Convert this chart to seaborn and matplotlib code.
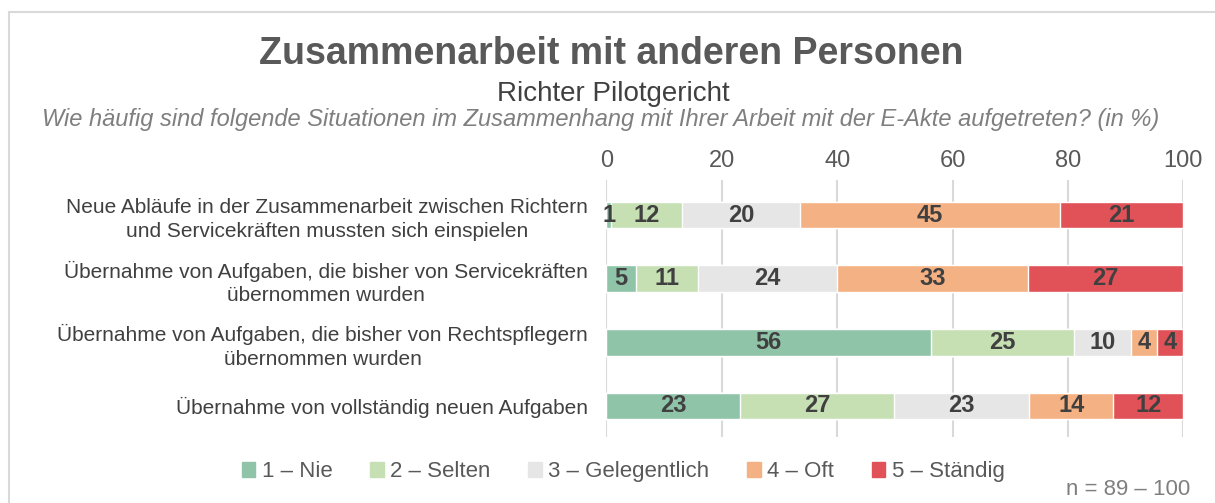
import matplotlib.pyplot as plt
import seaborn as sns
import numpy as np
import pandas as pd
from matplotlib.lines import Line2D

# Data (share in %)
questions = [
    "Neue Abläufe in der Zusammenarbeit zwischen Richtern\nund Servicekräften mussten sich einspielen",
    "Übernahme von Aufgaben, die bisher von Servicekräften\nübernommen wurden",
    "Übernahme von Aufgaben, die bisher von Rechtspflegern\nübernommen wurden",
    "Übernahme von vollständig neuen Aufgaben",
]
levels = ["1 – Nie", "2 – Selten", "3 – Gelegentlich", "4 – Oft", "5 – Ständig"]
nie = [0.8, 5.2, 56.2, 23.2]
selten = [12.4, 10.7, 24.8, 26.7]
gelegentlich = [20.4, 24.1, 9.9, 23.4]
oft = [45.0, 33.0, 4.6, 14.5]
staendig = [21.4, 27.0, 4.5, 12.2]
labels_shown = [[1, 12, 20, 45, 21], [5, 11, 24, 33, 27], [56, 25, 10, 4, 4], [23, 27, 23, 14, 12]]
colors = ["#8FC4A8", "#C6E0B4", "#E7E6E6", "#F4B183", "#E05258"]

df = pd.DataFrame({"Frage": questions, levels[0]: nie, levels[1]: selten,
                   levels[2]: gelegentlich, levels[3]: oft, levels[4]: staendig})

sns.set_style("white")
plt.rcParams["font.family"] = ["Liberation Sans", "DejaVu Sans"]

fig = plt.figure(figsize=(12.15, 5.03), dpi=100)
ax = fig.add_axes([0.499, 0.131, 0.475, 0.511])

# stacked bars: draw cumulative sums, last level first (behind)
cum = df[levels].cumsum(axis=1)
for i in reversed(range(len(levels))):
    sns.barplot(x=cum[levels[i]].values, y=df["Frage"], color=colors[i], orient="h",
                width=0.42, saturation=1, ax=ax, zorder=3)

left = np.zeros(len(questions))
for i, lvl in enumerate(levels):
    for j in range(len(questions)):
        v = df[lvl].values[j]
        ax.text(left[j] + v / 2, j, str(labels_shown[j][i]), ha="center", va="center",
                fontsize=17, fontweight="bold", color="#404040", zorder=20)
    left += df[lvl].values

ax.set_xlim(0, 100)
ax.set_ylim(3.49, -0.55)
ax.set_xticks(range(0, 101, 20))
ax.xaxis.tick_top()
ax.tick_params(axis="x", length=0, labelsize=17, labelcolor="#595959", pad=6)
ax.tick_params(axis="y", length=0, labelsize=15, labelcolor="#404040", pad=13)
for t in ax.get_yticklabels():
    t.set_multialignment("center")
    t.set_linespacing(1.3)
ax.set_xlabel("")
ax.set_ylabel("")
ax.grid(axis="x", color="#D9D9D9", linewidth=1.5, zorder=0)
ax.set_axisbelow(True)
for s in ax.spines.values():
    s.set_visible(False)

fig.text(0.503, 0.893, "Zusammenarbeit mit anderen Personen", ha="center", va="center",
         fontsize=27, fontweight="bold", color="#595959")
fig.text(0.505, 0.813, "Richter Pilotgericht", ha="center", va="center",
         fontsize=20, color="#404040")
fig.text(0.494, 0.763, "Wie häufig sind folgende Situationen im Zusammenhang mit Ihrer Arbeit mit der E-Akte aufgetreten? (in %)",
         ha="center", va="center", fontsize=17, style="italic", color="#7F7F7F")

handles = [plt.Rectangle((0, 0), 1, 1, color=c) for c in colors]
fig.legend(handles, levels, loc="center", bbox_to_anchor=(0.513, 0.062), ncol=5, frameon=False,
           fontsize=16, handlelength=0.6, handleheight=0.6, handletextpad=0.3,
           columnspacing=1.7, labelcolor="#595959")
fig.text(0.98, 0.006, "n = 89 – 100", ha="right", va="bottom", fontsize=16, color="#7F7F7F")

# light frame around the chart
fig.add_artist(Line2D([9 / 1215, 1], [1 - 12 / 503, 1 - 12 / 503], color="#D9D9D9", lw=1.5,
                      transform=fig.transFigure))
fig.add_artist(Line2D([9 / 1215, 9 / 1215], [0, 1 - 12 / 503], color="#D9D9D9", lw=1.5,
                      transform=fig.transFigure))

fig.savefig("out.png", dpi=100, facecolor="white")
